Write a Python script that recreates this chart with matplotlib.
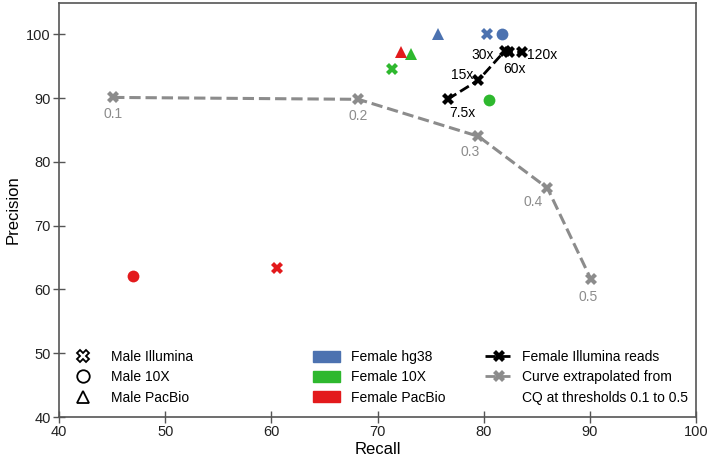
import matplotlib.pyplot as plt
from matplotlib.lines import Line2D
from matplotlib.patches import Patch

plt.rcParams['font.family'] = ['Liberation Sans', 'DejaVu Sans']

# Data
blue = '#4C72B0'
green = '#2EB82E'
red = '#E31A1C'
gray = '#8C8C8C'

# Male samples (marker shape) on three female references (colour)
hg38_recall = [80.3, 81.7, 75.7]
hg38_prec = [100.0, 100.0, 100.0]
tenx_recall = [71.4, 80.5, 73.2]
tenx_prec = [94.5, 89.7, 96.9]
pacbio_recall = [60.5, 47.0, 72.2]
pacbio_prec = [63.3, 62.1, 97.2]
markers = ['X', 'o', '^']

# Female Illumina reads at different coverages
cov_labels = ['7.5x', '15x', '30x', '60x', '120x']
cov_recall = [76.6, 79.5, 82.0, 82.4, 83.6]
cov_prec = [89.8, 92.8, 97.4, 97.2, 97.2]

# Curve extrapolated from CQ thresholds
cq_labels = ['0.1', '0.2', '0.3', '0.4', '0.5']
cq_recall = [45.1, 68.2, 79.5, 86.0, 90.1]
cq_prec = [90.1, 89.8, 84.0, 75.9, 61.6]

fig = plt.figure(figsize=(7.09, 4.61), dpi=100)
ax = fig.add_axes([0.0832, 0.0954, 0.8985, 0.8981])

ax.plot(cq_recall, cq_prec, '--', color=gray, lw=2.2, marker='X', ms=8, mew=0)
ax.plot(cov_recall, cov_prec, '--', color='black', lw=2, marker='X', ms=8, mew=0)

for rec, prec, col in [(hg38_recall, hg38_prec, blue),
                       (tenx_recall, tenx_prec, green),
                       (pacbio_recall, pacbio_prec, red)]:
    for r, p, m in zip(rec, prec, markers):
        ax.plot(r, p, m, color=col, ms=8.5 if m != 'X' else 8, mew=0)

# annotations (offsets in points)
cq_off = [(0, -12), (0, -12), (-6, -11), (-10, -10), (-2, -13)]
for lab, r, p, off in zip(cq_labels, cq_recall, cq_prec, cq_off):
    ax.annotate(lab, (r, p), xytext=off, textcoords='offset points',
                ha='center', va='center', color=gray, fontsize=10)

cov_off = [(11, -10), (-12, 4), (-16, -3), (4, -12), (4, -2)]
cov_ha = ['center', 'center', 'center', 'center', 'left']
for lab, r, p, off, ha in zip(cov_labels, cov_recall, cov_prec, cov_off, cov_ha):
    ax.annotate(lab, (r, p), xytext=off, textcoords='offset points',
                ha=ha, va='center', color='black', fontsize=10)

ax.set_xlim(40, 100)
ax.set_ylim(40, 104.9)
ax.set_xticks(range(40, 101, 10))
ax.set_yticks(range(40, 101, 10))
ax.set_xlabel('Recall', fontsize=12, labelpad=2)
ax.set_ylabel('Precision', fontsize=12, labelpad=4)
ax.tick_params(direction='inout', length=8, width=1, color='#555555', labelsize=10.5,
               labelcolor='#222222', pad=2)
for s in ax.spines.values():
    s.set_color('#555555')
    s.set_linewidth(1.2)

# legends
h1 = [Line2D([], [], ls='', marker=m, mfc='none', mec='black', ms=9, mew=1.3) for m in markers]
l1 = ax.legend(h1, ['Male Illumina', 'Male 10X', 'Male PacBio'], loc='lower left',
               bbox_to_anchor=(0.005, 0.0), frameon=False, fontsize=10, handlelength=1.2,
               handletextpad=1.4, labelspacing=0.45)
ax.add_artist(l1)

h2 = [Patch(color=c) for c in (blue, green, red)]
l2 = ax.legend(h2, ['Female hg38', 'Female 10X', 'Female PacBio'], loc='lower left',
               bbox_to_anchor=(0.379, 0.0), frameon=False, fontsize=10, handlelength=1.95,
               handleheight=0.8, handletextpad=0.8, labelspacing=0.45)
ax.add_artist(l2)

h3 = [Line2D([], [], ls='--', color='black', lw=2, marker='X', ms=8, mew=0),
      Line2D([], [], ls='--', color=gray, lw=2, marker='X', ms=8, mew=0),
      Line2D([], [], ls='', color='none')]
ax.legend(h3, ['Female Illumina reads', 'Curve extrapolated from', 'CQ at thresholds 0.1 to 0.5'],
          loc='lower left', bbox_to_anchor=(0.649, 0.0), frameon=False, fontsize=10,
          handlelength=2.0, handletextpad=0.7, labelspacing=0.45)

fig.savefig('out.png', dpi=100)
